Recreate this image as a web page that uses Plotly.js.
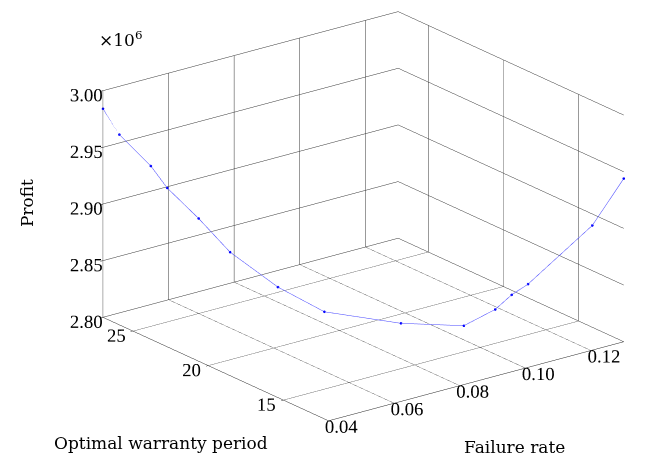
<!DOCTYPE html>
<html>
<head>
<meta charset="utf-8">
<script src="https://cdn.plot.ly/plotly-3.0.1.min.js"></script>
<style>html,body{margin:0;padding:0;background:#fff;}#chart{width:646px;height:457px;}</style>
</head>
<body>
<div id="chart"></div>
<script>
// Data
var failureRate = [0.040, 0.045, 0.050, 0.055, 0.060, 0.065, 0.075, 0.080, 0.085, 0.095, 0.100, 0.105, 0.110, 0.125, 0.130];
var warrantyPeriod = [27, 27, 26, 26, 25, 24, 23, 21, 17, 15, 14, 14, 14, 13, 12];
var profit = [2.9841e6, 2.9574e6, 2.9319e6, 2.9086e6, 2.8839e6, 2.8564e6, 2.8239e6, 2.8104e6, 2.8207e6, 2.8230e6, 2.8396e6, 2.8486e6, 2.8542e6, 2.9004e6, 2.9440e6];

var xTicks = [0.04, 0.06, 0.08, 0.10, 0.12];
var xTickText = ['0.04', '0.06', '0.08', '0.10', '0.12'];
var yTicks = [15, 20, 25];
var yTickText = ['15', '20', '25'];
var zTicks = [2.80e6, 2.85e6, 2.90e6, 2.95e6, 3.00e6];
var zTickText = ['2.80', '2.85', '2.90', '2.95', '3.00'];

var FONT = 'Liberation Serif';
var TFONT = 'DejaVu Serif';

function axisStyle(range, vals, text) {
  return {
    title: {text: ''},
    range: range,
    autorange: false,
    tickmode: 'array',
    tickvals: vals,
    ticktext: text,
    tickangle: 0,
    tickfont: {family: FONT, size: 15, color: '#000'},
    showgrid: true,
    gridcolor: '#333',
    gridwidth: 1,
    showbackground: false,
    showline: true,
    linecolor: '#222',
    linewidth: 1,
    zeroline: false,
    showspikes: false,
    ticks: 'outside',
    ticklen: 3,
    tickcolor: '#000'
  };
}

var trace = {
  type: 'scatter3d',
  mode: 'lines+markers',
  x: failureRate,
  y: warrantyPeriod,
  z: profit,
  line: {color: '#4444ff', width: 1},
  marker: {color: '#0000ff', size: 1.5},
  hoverinfo: 'skip'
};

var titleFont = {family: TFONT, size: 17, color: '#000'};

var layout = {
  width: 646,
  height: 457,
  margin: {l: 0, r: 0, t: 0, b: 0},
  paper_bgcolor: '#fff',
  font: {family: FONT, size: 15, color: '#000'},
  showlegend: false,
  scene: {
    domain: {x: [0, 1], y: [0, 1]},
    aspectmode: 'manual',
    aspectratio: {x: 1.626, y: 1.626, z: 1.059},
    bgcolor: '#fff',
    camera: {
      eye: {x: -1.2888, y: -1.3958, z: 0.6506},
      up: {x: 0, y: 0, z: 1},
      center: {x: -0.1518, y: 0.0922, z: -0.0504},
      projection: {type: 'orthographic'}
    },
    xaxis: axisStyle([0.04, 0.13], xTicks, xTickText),
    yaxis: axisStyle([12, 27], yTicks, yTickText),
    zaxis: axisStyle([2.8e6, 3.0e6], zTicks, zTickText)
  },
  annotations: [
    {xref: 'paper', yref: 'paper', x: 0.150, y: 0.886, xanchor: 'left', yanchor: 'bottom',
     text: '\u00d710<sup>6</sup>', showarrow: false, font: titleFont},
    {xref: 'paper', yref: 'paper', x: 0.042, y: 0.556, xanchor: 'center', yanchor: 'middle',
     text: 'Profit', textangle: -90, showarrow: false, font: titleFont},
    {xref: 'paper', yref: 'paper', x: 0.0805, y: 0.031, xanchor: 'left', yanchor: 'middle',
     text: 'Optimal warranty period', showarrow: false, font: titleFont},
    {xref: 'paper', yref: 'paper', x: 0.796, y: 0.022, xanchor: 'center', yanchor: 'middle',
     text: 'Failure rate', showarrow: false, font: titleFont}
  ]
};

Plotly.newPlot('chart', [trace], layout, {displayModeBar: false});
</script>
</body>
</html>
